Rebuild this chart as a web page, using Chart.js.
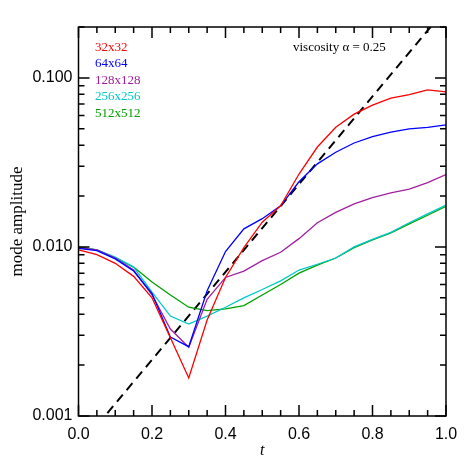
<!DOCTYPE html>
<html>
<head>
<meta charset="utf-8">
<script src="https://cdn.jsdelivr.net/npm/chart.js@4/dist/chart.umd.min.js"></script>
<style>
  html, body { margin: 0; padding: 0; background: #fff; }
  #wrap { width: 472px; height: 472px; }
</style>
</head>
<body>
<div id="wrap"><canvas id="chart"></canvas></div>
<script>
// time samples
const tValues = [0.00, 0.05, 0.10, 0.15, 0.20, 0.25, 0.30, 0.35, 0.40, 0.45, 0.50,
                 0.55, 0.60, 0.65, 0.70, 0.75, 0.80, 0.85, 0.90, 0.95, 1.00];

// mode amplitude per resolution
const res32  = [0.0096, 0.0090, 0.0080, 0.0067, 0.0050, 0.0029, 0.00168, 0.0037, 0.0066, 0.0099, 0.0140,
                0.0175, 0.0270, 0.0390, 0.0510, 0.0610, 0.0690, 0.0760, 0.0797, 0.0850, 0.0826];
const res64  = [0.0098, 0.0095, 0.0085, 0.0072, 0.0053, 0.00293, 0.00257, 0.0055, 0.0094, 0.0128, 0.0147,
                0.0175, 0.0243, 0.0310, 0.0363, 0.0412, 0.0450, 0.0478, 0.0500, 0.0510, 0.0527];
const res128 = [0.0099, 0.0096, 0.0086, 0.0073, 0.0052, 0.00327, 0.00255, 0.0049, 0.0066, 0.0072, 0.0083,
                0.0093, 0.0112, 0.0139, 0.0160, 0.0180, 0.0196, 0.0209, 0.0220, 0.0240, 0.0268];
const res256 = [0.0099, 0.0096, 0.0087, 0.0076, 0.0054, 0.0039, 0.0035, 0.0039, 0.0044, 0.0050, 0.0056,
                0.0063, 0.0073, 0.0079, 0.0086, 0.0100, 0.0111, 0.0122, 0.0139, 0.0157, 0.0177];
const res512 = [0.0100, 0.0096, 0.0086, 0.0076, 0.0062, 0.0052, 0.0044, 0.0042, 0.0043, 0.0045, 0.0052,
                0.0060, 0.0070, 0.0078, 0.0086, 0.0099, 0.0110, 0.0121, 0.0137, 0.0154, 0.0174];

// exponential growth reference (dashed)
const fitT = [0.0, 1.0];
const fitAmp = [0.00065, 0.257];

const seriesNames  = ['32x32', '64x64', '128x128', '256x256', '512x512'];
const seriesColors = ['#ff0000', '#0000ff', '#a020a0', '#00c8c8', '#00a000'];
const seriesData   = [res32, res64, res128, res256, res512];

const xTicks = [0, 0.2, 0.4, 0.6, 0.8, 1.0];
const yTicks = [0.001, 0.01, 0.1];

function pts(xs, ys) {
    return xs.map(function(x, i) { return {x: x, y: ys[i]}; });
}

var datasets = seriesData.map(function(d, i) {
    return {
        label: seriesNames[i],
        data: pts(tValues, d),
        borderColor: seriesColors[i],
        borderWidth: 1.3,
        pointRadius: 0,
        tension: 0,
        fill: false
    };
});
datasets.push({
    label: 'fit',
    data: pts(fitT, fitAmp),
    borderColor: '#000',
    borderWidth: 2,
    borderDash: [9, 6],
    pointRadius: 0,
    fill: false
});

// IDL-style frame, inward ticks and annotations
const framePlugin = {
    id: 'frame',
    afterDraw(chart) {
        var ctx = chart.ctx;
        var a = chart.chartArea;
        var xs = chart.scales.x, ys = chart.scales.y;
        ctx.save();
        ctx.strokeStyle = '#000';
        ctx.lineWidth = 1.5;
        ctx.strokeRect(a.left, a.top, a.right - a.left, a.bottom - a.top);

        ctx.beginPath();
        // x ticks
        for (var i = 0; i <= 20; i++) {
            var v = i * 0.05;
            var px = xs.getPixelForValue(v);
            var len = (i % 4 === 0) ? 11 : 6;
            ctx.moveTo(px, a.bottom); ctx.lineTo(px, a.bottom - len);
            ctx.moveTo(px, a.top); ctx.lineTo(px, a.top + len);
        }
        // y ticks
        yTicks.forEach(function(d) {
            for (var k = 1; k <= 9; k++) {
                var yv = d * k;
                if (yv > ys.max) break;
                var py = ys.getPixelForValue(yv);
                var l = (k === 1) ? 11 : 6;
                ctx.moveTo(a.left, py); ctx.lineTo(a.left + l, py);
                ctx.moveTo(a.right, py); ctx.lineTo(a.right - l, py);
            }
        });
        ctx.stroke();

        // legend text
        ctx.font = '13px "Liberation Serif", "DejaVu Serif", serif';
        ctx.textBaseline = 'middle';
        ctx.textAlign = 'left';
        seriesNames.forEach(function(n, i) {
            ctx.fillStyle = seriesColors[i];
            ctx.fillText(n, 95, 47.5 + i * 16.5);
        });
        ctx.fillStyle = '#000';
        ctx.fillText('viscosity \u03b1 = 0.25', 293, 48);

        // axis titles
        ctx.font = '17px "Liberation Serif", "DejaVu Serif", serif';
        ctx.textAlign = 'center';
        ctx.save();
        ctx.translate(18, (a.top + a.bottom) / 2);
        ctx.rotate(-Math.PI / 2);
        ctx.fillText('mode amplitude', 0, 0);
        ctx.restore();
        ctx.font = 'italic 16px "Liberation Serif", "DejaVu Serif", serif';
        ctx.fillText('t', (a.left + a.right) / 2, 451);
        ctx.restore();
    }
};

new Chart(document.getElementById('chart'), {
    type: 'line',
    data: {datasets: datasets},
    plugins: [framePlugin],
    options: {
        responsive: true,
        maintainAspectRatio: false,
        animation: false,
        layout: {padding: {left: 0, right: 26, top: 27, bottom: 0}},
        plugins: {legend: {display: false}, tooltip: {enabled: false}},
        scales: {
            x: {
                type: 'linear',
                min: 0, max: 1,
                afterBuildTicks: function(scale) {
                    scale.ticks = xTicks.map(function(v) { return {value: v}; });
                },
                afterFit: function(scale) { scale.height = 56; },
                grid: {display: false, drawTicks: false},
                border: {display: false},
                ticks: {
                    padding: 9,
                    color: '#000',
                    maxRotation: 0,
                    font: {family: '"Liberation Sans", Arial, sans-serif', size: 16},
                    callback: function(v) { return Number(v).toFixed(1); }
                }
            },
            y: {
                type: 'logarithmic',
                min: 0.001, max: 0.2,
                afterBuildTicks: function(scale) {
                    scale.ticks = yTicks.map(function(v) { return {value: v}; });
                },
                afterFit: function(scale) { scale.width = 78.5; },
                grid: {display: false, drawTicks: false},
                border: {display: false},
                ticks: {
                    padding: 6,
                    color: '#000',
                    font: {family: '"Liberation Sans", Arial, sans-serif', size: 16},
                    callback: function(v) { return Number(v).toFixed(3); }
                }
            }
        }
    }
});
</script>
</body>
</html>
